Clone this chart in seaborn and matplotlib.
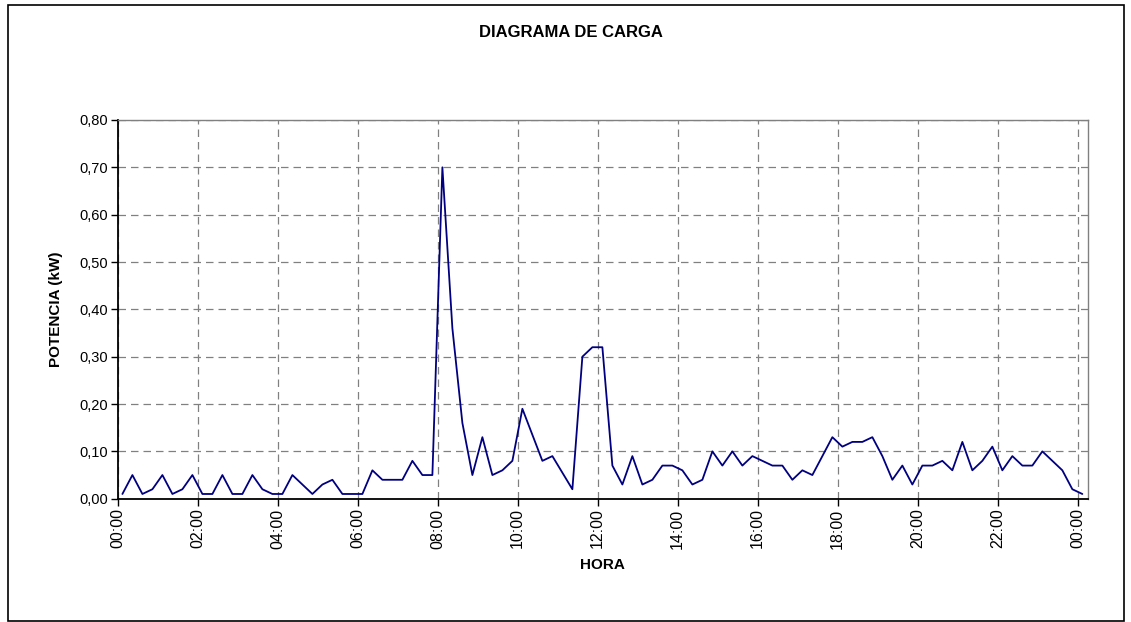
import pandas as pd
import matplotlib
matplotlib.use("Agg")
import matplotlib.pyplot as plt
import seaborn as sns
from matplotlib.patches import Rectangle
from matplotlib.ticker import FuncFormatter, MultipleLocator

# Lecturas cada 15 minutos (la primera a las 00:07)
horas = pd.date_range("2000-01-01 00:07", periods=97, freq="15min")

# Potencia medida (kW)
potencia = [
    0.01, 0.05, 0.01, 0.02, 0.05, 0.01, 0.02, 0.05, 0.01, 0.01,
    0.05, 0.01, 0.01, 0.05, 0.02, 0.01, 0.01, 0.05, 0.03, 0.01,
    0.03, 0.04, 0.01, 0.01, 0.01, 0.06, 0.04, 0.04, 0.04, 0.08,
    0.05, 0.05, 0.70, 0.36, 0.16, 0.05, 0.13, 0.05, 0.06, 0.08,
    0.19, 0.135, 0.08, 0.09, 0.055, 0.02, 0.30, 0.32, 0.32, 0.07,
    0.03, 0.09, 0.03, 0.04, 0.07, 0.07, 0.06, 0.03, 0.04, 0.10,
    0.07, 0.10, 0.07, 0.09, 0.08, 0.07, 0.07, 0.04, 0.06, 0.05,
    0.09, 0.13, 0.11, 0.12, 0.12, 0.13, 0.09, 0.04, 0.07, 0.03,
    0.07, 0.07, 0.08, 0.06, 0.12, 0.06, 0.08, 0.11, 0.06, 0.09,
    0.07, 0.07, 0.10, 0.08, 0.06, 0.02, 0.01,
]

# Etiquetas del eje X (cada 2 horas)
ticks_horas = [0, 2, 4, 6, 8, 10, 12, 14, 16, 18, 20, 22, 24]
etiquetas_horas = ["00:00", "02:00", "04:00", "06:00", "08:00", "10:00", "12:00",
                   "14:00", "16:00", "18:00", "20:00", "22:00", "00:00"]

df = pd.DataFrame({
    "hora": (horas - horas[0].normalize()).total_seconds() / 3600,
    "potencia": potencia,
})

sns.set_style("white")
plt.rcParams["font.family"] = ["Liberation Sans", "DejaVu Sans"]
plt.rcParams["text.color"] = "black"
plt.rcParams["axes.labelcolor"] = "black"
plt.rcParams["xtick.color"] = "black"
plt.rcParams["ytick.color"] = "black"

fig = plt.figure(figsize=(11.31, 6.22), dpi=100)
ax = fig.add_axes([0.1041, 0.1982, 0.8576, 0.6089])

sns.lineplot(data=df, x="hora", y="potencia", color="#000080", linewidth=1.3, ax=ax)

ax.set_xlim(0, 24.25)
ax.set_ylim(0, 0.8)
ax.yaxis.set_major_locator(MultipleLocator(0.1))
ax.yaxis.set_major_formatter(FuncFormatter(lambda v, p: f"{v:.2f}".replace(".", ",")))
ax.set_xticks(ticks_horas)
ax.set_xticklabels(etiquetas_horas, rotation=90, fontsize=11.5)
ax.tick_params(axis="y", labelsize=10.5)
ax.tick_params(direction="out", length=5, width=1, color="black", bottom=True, left=True, pad=2)

# Rejilla discontinua
ax.grid(True, color="#808080", linestyle=(0, (6, 4)), linewidth=0.9)

for lado in ["left", "bottom"]:
    ax.spines[lado].set_color("black")
    ax.spines[lado].set_linewidth(1.3)
for lado in ["top", "right"]:
    ax.spines[lado].set_color("#808080")
    ax.spines[lado].set_linewidth(1.0)

ax.set_xlabel("HORA", fontsize=11, fontweight="bold", labelpad=7)
ax.set_ylabel("POTENCIA (kW)", fontsize=11, fontweight="bold", labelpad=12)
fig.text(0.505, 0.948, "DIAGRAMA DE CARGA", ha="center", va="center",
         fontsize=12, fontweight="bold")

# Marco exterior
fig.patches.append(Rectangle((0.007, 0.002), 0.987, 0.99, transform=fig.transFigure,
                             fill=False, edgecolor="black", linewidth=1.2))

plt.savefig("out.png", dpi=100)
